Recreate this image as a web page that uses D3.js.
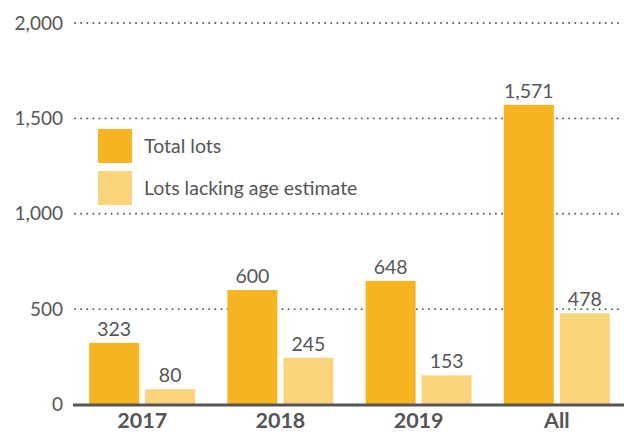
<!DOCTYPE html>
<html>
<head>
<meta charset="utf-8">
<script src="https://cdn.jsdelivr.net/npm/d3@7"></script>
<style>
  body { margin: 0; background: #fff; }
  text { font-family: Lato, "Open Sans", sans-serif; fill: #555; }
</style>
</head>
<body>
<div class="chart"></div>
<script>
// data
var categories = ["2017", "2018", "2019", "All"];
var totalLots = [323, 600, 648, 1571];
var lackingAge = [80, 245, 153, 478];
var seriesNames = ["Total lots", "Lots lacking age estimate"];
var yTicks = [0, 500, 1000, 1500, 2000];

var colors = ["#F7B421", "#FAD37A"];

var svgWidth = 624;
var svgHeight = 436;

var svg = d3.select(".chart")
  .append("svg")
  .attr("width", svgWidth)
  .attr("height", svgHeight);

var rows = categories.map(function (c, i) {
  return { cat: c, values: [totalLots[i], lackingAge[i]] };
});

var y = d3.scaleLinear()
  .domain([0, 2000])
  .range([404.5, 23]);

var x0 = d3.scaleBand()
  .domain(categories)
  .range([73, 626])
  .paddingInner(0.233)
  .paddingOuter(0.117);

var x1 = d3.scaleBand()
  .domain([0, 1])
  .range([0, x0.bandwidth()])
  .paddingInner(0.107);

// dotted gridlines
var grid = svg.append("g");
grid.selectAll("line")
  .data(yTicks.filter(function (d) { return d > 0; }))
  .enter()
  .append("line")
  .attr("x1", 75)
  .attr("x2", svgWidth)
  .attr("y1", function (d) { return y(d); })
  .attr("y2", function (d) { return y(d); })
  .attr("stroke", "#555")
  .attr("stroke-width", 1.8)
  .attr("stroke-linecap", "round")
  .attr("stroke-dasharray", "0.1,6");

// y tick labels
var leftAxis = d3.axisLeft(y)
  .tickValues(yTicks)
  .tickFormat(d3.format(","))
  .tickSize(0)
  .tickPadding(0);

var yAxisG = svg.append("g")
  .attr("transform", "translate(63,0)")
  .call(leftAxis);
yAxisG.select(".domain").remove();
yAxisG.selectAll("text")
  .attr("font-size", "19px")
  .attr("font-family", "Lato")
  .attr("fill", "#555");

// bars
var groups = svg.append("g")
  .selectAll("g")
  .data(rows)
  .enter()
  .append("g")
  .attr("transform", function (d) { return "translate(" + x0(d.cat) + ",0)"; });

groups.selectAll("rect")
  .data(function (d) { return d.values; })
  .enter()
  .append("rect")
  .attr("x", function (d, i) { return x1(i); })
  .attr("width", x1.bandwidth())
  .attr("y", function (d) { return y(d); })
  .attr("height", function (d) { return y(0) - y(d); })
  .attr("fill", function (d, i) { return colors[i]; });

groups.selectAll("text")
  .data(function (d) { return d.values; })
  .enter()
  .append("text")
  .attr("x", function (d, i) { return x1(i) + x1.bandwidth() / 2; })
  .attr("y", function (d) { return y(d) - 7; })
  .attr("text-anchor", "middle")
  .attr("font-size", "19.5px")
  .text(function (d) { return d3.format(",")(d); });

// baseline
svg.append("line")
  .attr("x1", 73)
  .attr("x2", svgWidth)
  .attr("y1", y(0) + 0.5)
  .attr("y2", y(0) + 0.5)
  .attr("stroke", "#555")
  .attr("stroke-width", 3);

// category labels
var bottomAxis = d3.axisBottom(x0).tickSize(0).tickPadding(0);
var xAxisG = svg.append("g")
  .attr("transform", "translate(0,413)")
  .call(bottomAxis);
xAxisG.select(".domain").remove();
xAxisG.selectAll("text")
  .attr("font-size", "21.5px")
  .attr("font-weight", "bold")
  .attr("font-family", "Lato")
  .attr("fill", "#555");

// legend
var legend = svg.append("g")
  .selectAll("g")
  .data(seriesNames)
  .enter()
  .append("g")
  .attr("transform", function (d, i) { return "translate(98," + (129 + i * 42) + ")"; });

legend.append("rect")
  .attr("width", 34)
  .attr("height", 34)
  .attr("fill", function (d, i) { return colors[i]; });

legend.append("text")
  .attr("x", 46)
  .attr("y", 17)
  .attr("dy", "0.35em")
  .attr("font-size", "19.5px")
  .text(function (d) { return d; });
</script>
</body>
</html>
